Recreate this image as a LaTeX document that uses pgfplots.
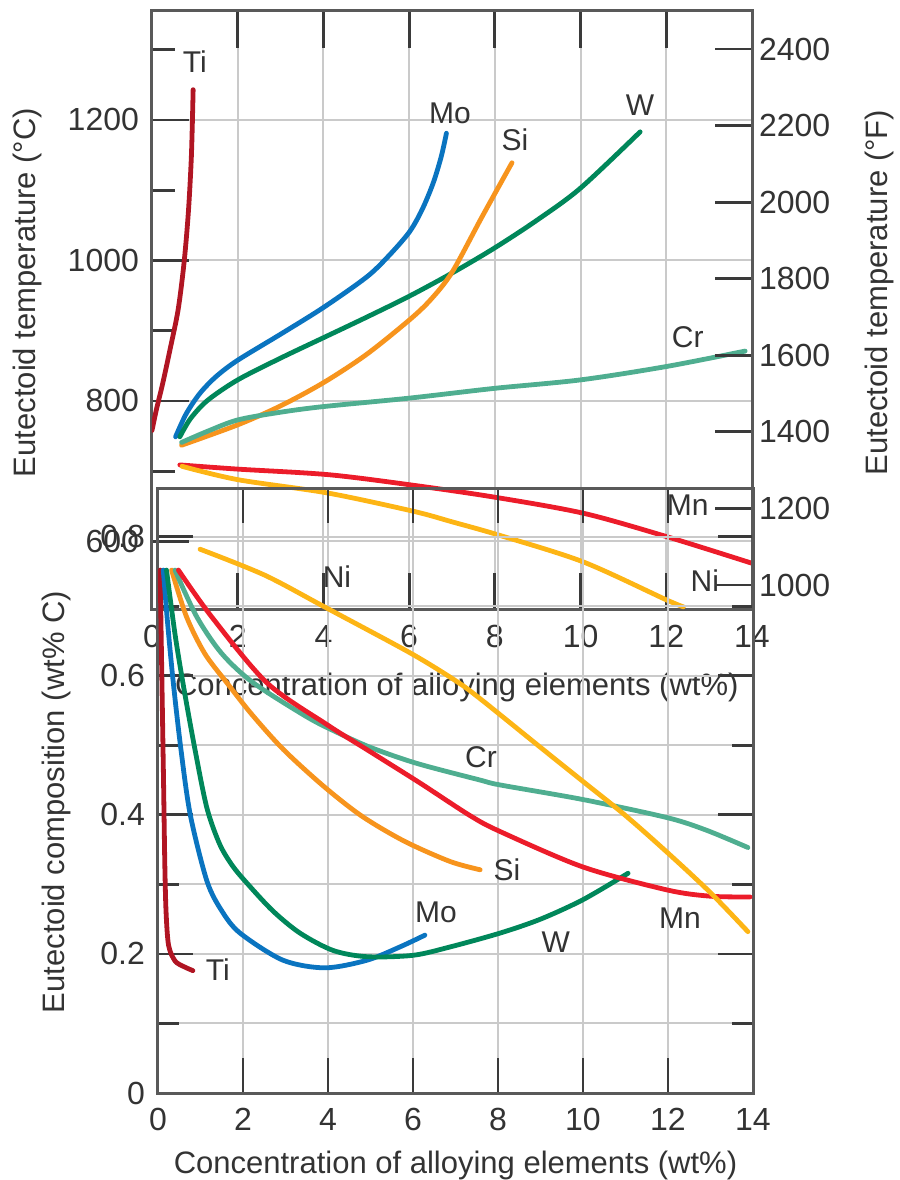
\documentclass[border=0pt]{standalone}
\usepackage{fontspec}
\setmainfont{Liberation Sans}
\usepackage{pgfplots}
\pgfplotsset{compat=1.18}
\definecolor{cTi}{HTML}{B01523}
\definecolor{cMo}{HTML}{0A74C0}
\definecolor{cSi}{HTML}{F7941D}
\definecolor{cW}{HTML}{00875A}
\definecolor{cCr}{HTML}{4FAE90}
\definecolor{cMn}{HTML}{EC1C2A}
\definecolor{cNi}{HTML}{FDB515}
\definecolor{framec}{HTML}{595959}
\definecolor{tickc}{HTML}{3A3A3A}
\definecolor{gridc}{HTML}{CACACA}
\definecolor{txt}{HTML}{333333}
\pgfplotsset{
  base/.style={
    scale only axis, xmin=0, xmax=14,
    axis line style={draw=framec, line width=1.5pt},
    tick style={draw=tickc, line width=1.4pt},
    grid style={draw=gridc, line width=1pt},
    minor grid style={draw=gridc, line width=1pt},
    tick align=inside,
    major tick length=18pt, minor tick length=11pt,
    tick label style={font=\fontsize{16}{16}\selectfont, text=txt},
    /pgf/number format/assume math mode=true,
    /pgf/number format/1000 sep={},
  },
  curve/.style={smooth, no markers, line width=2.4pt, line cap=round},
}
\tikzset{lab/.style={font=\fontsize{15}{15}\selectfont, text=txt},
  axlab/.style={font=\fontsize{15.5}{15.5}\selectfont, text=txt, anchor=center}}
\begin{document}
\begin{tikzpicture}[x=1pt,y=1pt]
\useasboundingbox (0,0) rectangle (450,590);

% ---------------- Top plot: eutectoid temperature (deg C) ----------------
\begin{axis}[base, at={(76pt,285pt)}, anchor=south west,
  width=300pt, height=299.5pt,
  ymin=502.5, ymax=1355,
  xtick={0,2,...,14}, xmajorgrids, xtick pos=both,
  ytick={600,800,1000,1200}, minor ytick={700,900,1100,1300}, ymajorgrids,
  ytick pos=left,
  major tick length=18.5pt, minor tick length=11.5pt,
  xlabel={Concentration of alloying elements (wt\%)},
  ylabel={Eutectoid temperature (°C)},
  every axis x label/.style={at={(axis description cs:0.508,-0.130)},axlab},
  every axis y label/.style={at={(axis description cs:-0.207,0.53)},axlab,rotate=90},
  xticklabel style={yshift=-4pt},
  yticklabel style={xshift=-3pt},
]
\addplot[curve, cTi] coordinates {(0.0,758) (0.1,787) (0.25,825) (0.42,873) (0.61,930) (0.75,998) (0.85,1070) (0.92,1150) (0.96,1243)};
\addplot[curve, cMo] coordinates {(0.55,749) (0.8,782) (1.12,811) (1.5,835) (2.0,858) (3.0,895) (4.0,933) (5.0,976) (5.5,1005) (6.0,1040) (6.3,1072) (6.56,1110) (6.75,1148) (6.87,1181)};
\addplot[curve, cW] coordinates {(0.65,749) (0.9,775) (1.3,801) (2.0,830) (3.0,861) (4.0,890) (5.0,919) (6.0,949) (7.0,982) (8.0,1018) (9.0,1058) (10.0,1103) (11.39,1183)};
\addplot[curve, cSi] coordinates {(0.69,737) (2.0,766) (3.0,793) (4.0,826) (5.0,866) (6.0,915) (6.5,944) (7.0,983) (7.7,1062) (8.4,1139)};
\addplot[curve, cCr] coordinates {(0.69,741) (1.3,757) (2.0,773) (3.0,784) (4.0,792) (6.0,804) (8.0,818) (10.0,830) (12.0,849) (13.84,871)};
\addplot[curve, cMn] coordinates {(0.65,709) (2.0,703) (4.13,695) (6.1,680) (8.0,663) (10.08,640) (12.06,606) (14.0,569)};
\addplot[curve, cNi] coordinates {(0.7,707) (2.0,688) (4.1,669) (6.1,643) (7.0,628) (8.1,609) (10.06,571) (12.0,517) (12.4,507)};
\node[lab] at (axis cs:1.0,1283) {Ti};
\node[lab] at (axis cs:6.95,1210) {Mo};
\node[lab] at (axis cs:8.47,1172) {Si};
\node[lab] at (axis cs:11.39,1221) {W};
\node[lab] at (axis cs:12.5,891) {Cr};
\node[lab] at (axis cs:12.5,652) {Mn};
\node[lab] at (axis cs:12.9,545) {Ni};
\end{axis}

% ---------------- Top plot: right axis (deg F) ----------------
\begin{axis}[base, at={(76pt,285pt)}, anchor=south west,
  width=300pt, height=299.5pt,
  ymin=934.7, ymax=2499.3,
  axis x line=none, axis y line*=right,
  ytick={1000,1200,...,2400},
  major tick length=18.5pt,
  ylabel={Eutectoid temperature (°F)},
  every axis y label/.style={at={(axis description cs:1.213,0.53)},axlab,rotate=90},
]
\end{axis}

% ---------------- Bottom plot: eutectoid composition ----------------
\begin{axis}[base, at={(79pt,43.5pt)}, anchor=south west,
  width=297.5pt, height=302.5pt,
  ymin=0, ymax=0.87,
  xtick={0,2,...,14}, xmajorgrids, xtick pos=both,
  ytick={0,0.2,0.4,0.6,0.8}, yticklabels={0,0.2,0.4,0.6,0.8},
  minor ytick={0.1,0.3,0.5,0.7}, ymajorgrids, yminorgrids,
  ytick pos=both,
  major tick length=17.5pt, minor tick length=10.5pt,
  xlabel={Concentration of alloying elements (wt\%)},
  ylabel={Eutectoid composition (wt\% C)},
  every axis x label/.style={at={(axis description cs:0.5,-0.119)},axlab},
  every axis y label/.style={at={(axis description cs:-0.17,0.481)},axlab,rotate=90},
  xticklabel style={yshift=-4pt},
  yticklabel style={xshift=-3pt},
]
\addplot[curve, cTi] coordinates {(0.05,0.752) (0.09,0.6) (0.13,0.45) (0.16,0.33) (0.19,0.26) (0.25,0.212) (0.4,0.19) (0.6,0.182) (0.82,0.176)};
\addplot[curve, cMo] coordinates {(0.125,0.752) (0.22,0.68) (0.36,0.59) (0.54,0.494) (0.76,0.4) (1.15,0.305) (1.5,0.262) (1.93,0.23) (2.94,0.191) (3.93,0.18) (4.92,0.191) (5.69,0.21) (6.28,0.227)};
\addplot[curve, cW] coordinates {(0.2,0.752) (0.4,0.66) (0.6,0.585) (0.87,0.494) (1.15,0.41) (1.45,0.358) (1.75,0.327) (2.09,0.302) (2.7,0.262) (3.34,0.23) (4.12,0.205) (4.92,0.196) (6.0,0.198) (6.87,0.21) (8.05,0.23) (9.0,0.25) (10.0,0.278) (11.06,0.316)};
\addplot[curve, cSi] coordinates {(0.32,0.752) (0.67,0.685) (1.1,0.632) (1.62,0.59) (2.2,0.545) (2.95,0.494) (3.9,0.441) (4.8,0.398) (5.8,0.362) (6.87,0.333) (7.58,0.321)};
\addplot[curve, cCr] coordinates {(0.4,0.752) (0.91,0.685) (1.5,0.632) (2.24,0.59) (3.5,0.541) (4.2,0.519) (5.0,0.497) (6.09,0.474) (7.58,0.45) (8.05,0.443) (10.0,0.422) (11.98,0.396) (12.9,0.378) (13.88,0.353)};
\addplot[curve, cMn] coordinates {(0.48,0.752) (1.26,0.685) (2.56,0.59) (3.97,0.53) (4.91,0.494) (6.16,0.446) (7.34,0.399) (8.05,0.376) (10.0,0.325) (11.98,0.292) (13.0,0.283) (13.93,0.282)};
\addplot[curve, cNi] coordinates {(0.99,0.782) (2.5,0.745) (3.89,0.70) (5.93,0.633) (7.0,0.593) (7.58,0.567) (9.0,0.497) (10.0,0.448) (11.0,0.399) (12.0,0.345) (13.0,0.288) (13.88,0.232)};
\node[lab] at (axis cs:1.41,0.177) {Ti};
\node[lab] at (axis cs:6.54,0.26) {Mo};
\node[lab] at (axis cs:8.21,0.321) {Si};
\node[lab] at (axis cs:9.36,0.217) {W};
\node[lab] at (axis cs:12.28,0.252) {Mn};
\node[lab] at (axis cs:7.6,0.483) {Cr};
\node[lab] at (axis cs:4.21,0.742) {Ni};
\end{axis}
\end{tikzpicture}
\end{document}
